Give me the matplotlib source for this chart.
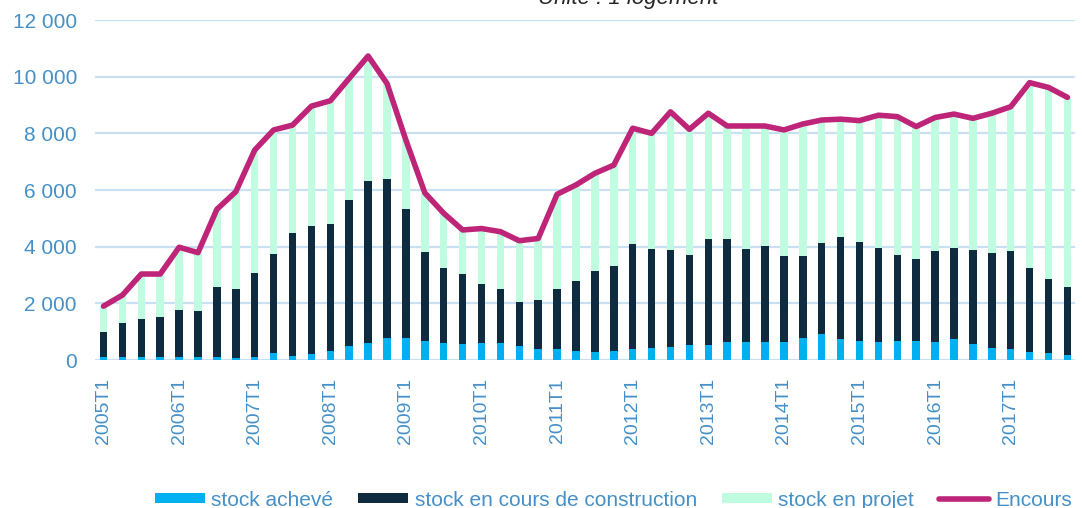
"""Stock de logements neufs par trimestre, avec l'encours."""

import matplotlib
matplotlib.use("Agg")
import matplotlib.pyplot as plt
import numpy as np

plt.rcParams["font.family"] = ["Liberation Sans", "DejaVu Sans"]

quarters = [f"{y}T{q}" for y in range(2005, 2018) for q in range(1, 5)]

stock_acheve = [100, 100, 100, 100, 100, 100, 100, 60, 100, 260, 140, 200, 330, 510, 590, 760,
                760, 680, 590, 550, 590, 590, 490, 380, 380, 320, 280, 320, 380, 410, 450, 530,
                530, 620, 620, 620, 620, 760, 910, 730, 680, 620, 680, 680, 620, 730, 550, 410,
                380, 270, 240, 180]
stock_construction = [900, 1220, 1350, 1430, 1665, 1620, 2490, 2430, 2980, 3480, 4330, 4540, 4460, 5140, 5730, 5620,
                      4560, 3120, 2670, 2470, 2080, 1900, 1550, 1740, 2110, 2480, 2870, 3010, 3710, 3520, 3430, 3160,
                      3730, 3640, 3310, 3400, 3050, 2910, 3210, 3600, 3470, 3320, 3030, 2880, 3230, 3210, 3330, 3350,
                      3470, 2990, 2610, 2410]
stock_projet = [900, 970, 1585, 1505, 2215, 2070, 2730, 3450, 4330, 4380, 3820, 4220, 4360, 4290, 4410, 3380,
                2440, 2100, 1920, 1570, 1970, 2040, 2170, 2170, 3360, 3380, 3440, 3550, 4090, 4070, 4880, 4450,
                4450, 4000, 4330, 4240, 4450, 4660, 4350, 4170, 4300, 4700, 4880, 4680, 4710, 4740, 4650, 4950,
                5090, 6530, 6770, 6680]
encours = [1900, 2290, 3035, 3035, 3980, 3790, 5320, 5940, 7410, 8120, 8290, 8960, 9150, 9940, 10730, 9760,
           7760, 5900, 5180, 4590, 4640, 4530, 4210, 4290, 5850, 6180, 6590, 6880, 8180, 8000, 8760, 8140,
           8710, 8260, 8260, 8260, 8120, 8330, 8470, 8500, 8450, 8640, 8590, 8240, 8560, 8680, 8530, 8710,
           8940, 9790, 9620, 9270]

TEXT_BLUE = "#4590C8"

fig = plt.figure(figsize=(10.82, 5.08), dpi=100)
ax = fig.add_axes([0.0878, 0.2913, 0.9057, 0.6693])

x = np.arange(len(quarters))
a = np.array(stock_acheve)
c = np.array(stock_construction)
p = np.array(stock_projet)
w = 0.4
b1 = ax.bar(x, a, w, color="#00B0F0", label="stock achevé", zorder=2)
b2 = ax.bar(x, c, w, bottom=a, color="#0E2B3F", label="stock en cours de construction", zorder=2)
b3 = ax.bar(x, p, w, bottom=a + c, color="#BFFCE0", label="stock en projet", zorder=2)
ln, = ax.plot(x, encours, color="#BE2477", lw=4, solid_capstyle="round",
              solid_joinstyle="round", label="Encours", zorder=3)

ax.set_ylim(0, 12000)
ax.set_xlim(-0.45, 51.4)
ax.set_yticks(range(0, 12001, 2000))
ax.set_yticklabels([f"{v:,}".replace(",", " ") for v in range(0, 12001, 2000)])
ax.yaxis.grid(True, color="#C9DFF2", lw=1.6, zorder=0)
ax.set_axisbelow(True)
for s in ax.spines.values():
    s.set_visible(False)
ax.tick_params(axis="y", length=0, pad=13, labelsize=15, labelcolor=TEXT_BLUE)
ax.set_xticks(x[::4])
ax.set_xticklabels(quarters[::4], rotation=90)
ax.tick_params(axis="x", length=0, pad=13, labelsize=14, labelcolor=TEXT_BLUE)

fig.text(0.581, 0.992, "Unité : 1 logement", fontsize=16, style="italic",
         color="#262626", ha="center", va="baseline")

leg = fig.legend([b1, b2, b3, ln], [h.get_label() for h in (b1, b2, b3, ln)],
                 loc="lower right", bbox_to_anchor=(1.008, -0.04),
                 ncol=4, frameon=False, fontsize=15, handlelength=2.4,
                 handleheight=0.4, handletextpad=0.3, columnspacing=1.2)
for t in leg.get_texts():
    t.set_color(TEXT_BLUE)

fig.savefig("out.png", dpi=100)
plt.close(fig)
